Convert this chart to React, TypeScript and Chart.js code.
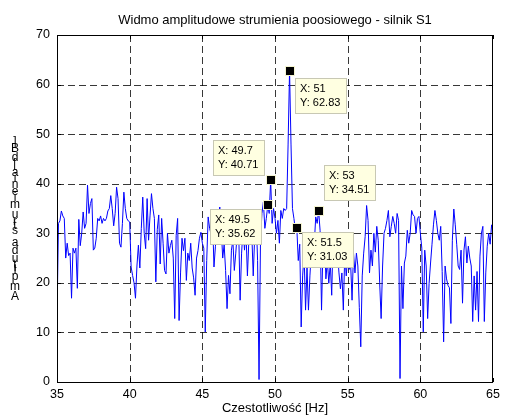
import React, { useEffect, useRef } from 'react';
import { Chart, registerables } from 'chart.js';

Chart.register(...registerables);

const TITLE = 'Widmo amplitudowe strumienia poosiowego - silnik S1';
const X_LABEL = 'Czestotliwość [Hz]';
const Y_LABEL = 'Amplituda strumienia [dB]';

const FREQ_START = 35;
const FREQ_STEP = 0.1;

// amplitude, one value every 0.1 Hz from 35 to 65 Hz
const amplitude = [
  12.5, 32, 32.5, 34.5, 33.5, 33, 25, 28, 25.5, 26,
  16.9, 27, 26, 27, 18.9, 32.8, 27.5, 30, 34.3, 31,
  32, 39.7, 34, 36, 37, 26.6, 27, 29, 33, 32.5,
  33.5, 32, 33, 32.5, 33, 34.5, 35, 37.6, 35, 31.5,
  34, 39.3, 37, 28, 27.2, 32, 38.3, 35, 33, 32.5,
  32.3, 23.2, 21.5, 20, 16.9, 23.4, 27.6, 23, 31, 37.3,
  30, 26.9, 37, 28.6, 33.5, 38, 35, 33, 20.2, 30.8,
  33.7, 23.8, 33, 28, 22.5, 21.8, 30, 26, 27.5, 28.6,
  25, 12.8, 29.6, 33, 12.4, 22, 29, 26.5, 29, 20.5,
  26, 24.5, 28, 23, 21, 17.5, 25, 26.5, 29, 30.2,
  28, 27, 10.1, 24.5, 33.3, 31, 29.8, 33.3, 23.2, 27.4,
  30, 33, 35.3, 31, 25, 27.7, 22.5, 14.8, 21.5, 17.8,
  26.6, 28.6, 22.5, 26, 30, 30.6, 16.5, 26, 31, 26.6,
  30.6, 21.4, 28.6, 32.6, 30, 21.4, 29.3, 33.3, 24.5, 0.5,
  28.6, 34, 36.3, 31, 33, 35.62, 34, 40.71, 32, 35,
  33, 30, 32.6, 28, 34.6, 33, 35, 34.6, 35, 48,
  62.83, 48, 35, 33, 30.6, 31.03, 24.5, 27.8, 11.1, 21.4,
  26, 14.5, 23, 14.5, 21.4, 26.6, 30, 27.8, 33.3, 32,
  34.51, 30.6, 14.5, 27.4, 30, 20.8, 24.5, 19.9, 24, 17.5,
  30.2, 30, 27, 26, 22, 18.8, 22, 14.5, 26, 21.4,
  25.4, 22.7, 24, 16.5, 26, 22, 26, 23.4, 15, 7.1,
  21.4, 26, 29.3, 35.6, 32.6, 22, 26.6, 23.4, 30, 26.2,
  31.4, 28.6, 20, 12.8, 23.4, 30, 31, 32.6, 34.6, 29.3,
  31.4, 33.4, 32, 30, 34, 32.6, 0.7, 23.4, 14.8, 24,
  25.4, 30.6, 28, 30, 34.6, 33.7, 33.4, 30, 33, 33.4,
  30, 27, 10.1, 26.6, 23.4, 12.8, 19.9, 24, 27.8, 31.7,
  34.6, 32.6, 30, 28.6, 31.4, 22.3, 8.1, 23.4, 20.8, 19.5,
  19, 11.8, 28.6, 34.9, 31.7, 27.8, 23.4, 22.7, 26.6, 15.9,
  26.6, 29.3, 24, 27.4, 25, 23.4, 12.2, 21.4, 14.5, 22.3,
  12.2, 25.4, 30, 31.4, 12.2, 22, 27.4, 30, 27.8, 31.7,
  30,
];

const frequencies = amplitude.map((_, i) => Math.round((FREQ_START + i * FREQ_STEP) * 10) / 10);

const xTicks = [35, 40, 45, 50, 55, 60, 65];
const yTicks = [0, 10, 20, 30, 40, 50, 60, 70];

// data tips (frequencies of the marked samples)
const tipFreqs = [51, 49.7, 49.5, 51.5, 53];
// box placement relative to the marked point: [horizontal side, vertical side, dx, dy]
const tipPlacement: Array<[string, string, number, number]> = [
  ['right', 'below', 5, 7],
  ['left', 'above', 6, 4],
  ['left', 'below', 6, 4],
  ['right', 'below', 5, 4],
  ['right', 'above', 5, 10],
];

const FONT = '"Liberation Sans", Arial, Helvetica, sans-serif';

const matlabPlugin = {
  id: 'matlabDecor',
  beforeDatasetsDraw(chart: any) {
    const { ctx, chartArea, scales } = chart;
    ctx.save();
    ctx.strokeStyle = 'rgba(0,0,0,0.78)';
    ctx.lineWidth = 1;
    ctx.setLineDash([7, 4]);
    xTicks.forEach((v) => {
      if (v === xTicks[0] || v === xTicks[xTicks.length - 1]) return;
      const px = Math.round(scales.x.getPixelForValue(v)) + 0.5;
      ctx.beginPath();
      ctx.moveTo(px, chartArea.top);
      ctx.lineTo(px, chartArea.bottom);
      ctx.stroke();
    });
    yTicks.forEach((v) => {
      if (v === yTicks[0] || v === yTicks[yTicks.length - 1]) return;
      const py = Math.round(scales.y.getPixelForValue(v)) + 0.5;
      ctx.beginPath();
      ctx.moveTo(chartArea.left, py);
      ctx.lineTo(chartArea.right, py);
      ctx.stroke();
    });
    ctx.restore();
  },
  afterDraw(chart: any) {
    const { ctx, chartArea, scales } = chart;
    const { left, right, top, bottom } = chartArea;
    ctx.save();
    // frame + inward ticks
    ctx.setLineDash([]);
    ctx.strokeStyle = '#000';
    ctx.lineWidth = 1;
    ctx.strokeRect(Math.round(left) + 0.5, Math.round(top) + 0.5, Math.round(right - left) - 1, Math.round(bottom - top));
    const tl = 4;
    xTicks.forEach((v) => {
      const px = Math.round(scales.x.getPixelForValue(v)) + 0.5;
      ctx.beginPath();
      ctx.moveTo(px, bottom);
      ctx.lineTo(px, bottom - tl);
      ctx.moveTo(px, top);
      ctx.lineTo(px, top + tl);
      ctx.stroke();
    });
    yTicks.forEach((v) => {
      const py = Math.round(scales.y.getPixelForValue(v)) + 0.5;
      ctx.beginPath();
      ctx.moveTo(left, py);
      ctx.lineTo(left + tl, py);
      ctx.moveTo(right, py);
      ctx.lineTo(right - tl, py);
      ctx.stroke();
    });

    // title
    ctx.fillStyle = '#000';
    ctx.font = `13px ${FONT}`;
    ctx.textAlign = 'center';
    ctx.textBaseline = 'middle';
    const cx = (left + right) / 2;
    ctx.fillText(TITLE, cx, 20);
    // x label
    ctx.fillText(X_LABEL, cx, 408);

    // y label: upright glyphs stacked bottom to top
    ctx.font = `12px ${FONT}`;
    const chars = Array.from(Y_LABEL);
    const adv = chars.map((c) => ctx.measureText(c).width);
    const total = adv.reduce((a, b) => a + b, 0);
    const firstC = adv[0] / 2;
    const lastC = total - adv[adv.length - 1] / 2;
    const yBottom = 297;
    const yTop = 142;
    let cum = 0;
    chars.forEach((c, k) => {
      const centre = cum + adv[k] / 2;
      cum += adv[k];
      if (c === ' ') return;
      const t = (centre - firstC) / (lastC - firstC);
      const y = yBottom - t * (yBottom - yTop);
      ctx.fillText(c, 15, y);
    });

    // data tips
    tipFreqs.forEach((f, k) => {
      const idx = Math.round((f - FREQ_START) / FREQ_STEP);
      const val = amplitude[idx];
      const px = scales.x.getPixelForValue(f);
      const py = scales.y.getPixelForValue(val);
      const [hs, vs, dx, dy] = tipPlacement[k];
      const w = 52;
      const h = 36;
      const bx = hs === 'right' ? px + dx : px - dx - w;
      const by = vs === 'below' ? py + dy : py - dy - h;
      ctx.fillStyle = '#ffffe1';
      ctx.fillRect(Math.round(bx), Math.round(by), w, h);
      ctx.strokeStyle = '#c8c8b4';
      ctx.strokeRect(Math.round(bx) + 0.5, Math.round(by) + 0.5, w - 1, h - 1);
      ctx.fillStyle = '#000';
      ctx.font = `11px ${FONT}`;
      ctx.textAlign = 'left';
      ctx.textBaseline = 'middle';
      ctx.fillText(`X: ${f}`, Math.round(bx) + 5, Math.round(by) + 11);
      ctx.fillText(`Y: ${val.toFixed(2)}`, Math.round(bx) + 5, Math.round(by) + 25);
      // marker
      ctx.fillStyle = '#f4f4d0';
      ctx.fillRect(Math.round(px) - 5, Math.round(py) - 5, 10, 10);
      ctx.fillStyle = '#000';
      ctx.fillRect(Math.round(px) - 4, Math.round(py) - 4, 8, 8);
    });
    ctx.restore();
  },
};

export default function App() {
  const canvasRef = useRef<HTMLCanvasElement | null>(null);

  useEffect(() => {
    document.body.style.margin = '0';
    const canvas = canvasRef.current;
    if (!canvas) return;
    const chart = new Chart(canvas, {
      type: 'line',
      data: {
        datasets: [
          {
            data: frequencies.map((f, i) => ({ x: f, y: amplitude[i] })),
            borderColor: '#0000ff',
            borderWidth: 1,
            pointRadius: 0,
            tension: 0,
            fill: false,
          },
        ],
      },
      options: {
        animation: false,
        responsive: false,
        maintainAspectRatio: false,
        layout: { padding: { top: 35, right: 9, left: 0, bottom: 0 } },
        plugins: {
          legend: { display: false },
          tooltip: { enabled: false },
          title: { display: false },
        },
        scales: {
          x: {
            type: 'linear',
            min: 35,
            max: 65,
            afterBuildTicks: (s: any) => {
              s.ticks = xTicks.map((v) => ({ value: v }));
            },
            grid: { display: false, drawTicks: false },
            border: { display: false },
            ticks: {
              color: '#000',
              font: { family: FONT, size: 12.5 },
              padding: 5,
              maxRotation: 0,
              autoSkip: false,
            },
            afterFit: (s: any) => {
              s.height = 33;
            },
          },
          y: {
            type: 'linear',
            min: 0,
            max: 70,
            afterBuildTicks: (s: any) => {
              s.ticks = yTicks.map((v) => ({ value: v }));
            },
            grid: { display: false, drawTicks: false },
            border: { display: false },
            ticks: {
              color: '#000',
              font: { family: FONT, size: 12.5 },
              padding: 7,
              autoSkip: false,
            },
            afterFit: (s: any) => {
              s.width = 57;
            },
          },
        },
      },
      plugins: [matlabPlugin],
    } as any);
    return () => chart.destroy();
  }, []);

  return (
    <div style={{ position: 'absolute', left: 0, top: 0, width: 505, height: 415, background: '#fff' }}>
      <canvas ref={canvasRef} width={505} height={415} style={{ width: 505, height: 415, display: 'block' }} />
    </div>
  );
}
